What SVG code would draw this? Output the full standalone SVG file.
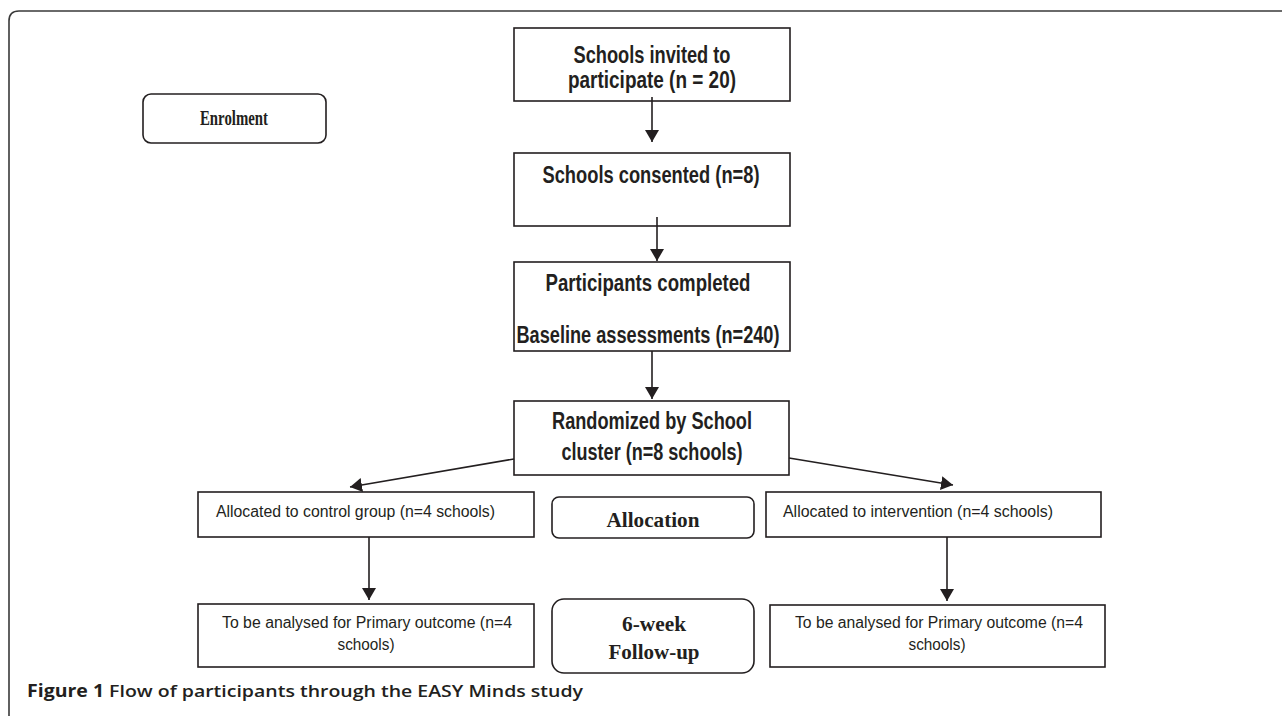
<svg xmlns="http://www.w3.org/2000/svg" width="1282" height="716" viewBox="0 0 1282 716">
<style>
.box{fill:#fff;stroke:#231f20;stroke-width:1.6}
.rbox{fill:#fff;stroke:#231f20;stroke-width:1.6}
.frame{fill:none;stroke:#3a3a3a;stroke-width:1.6}
.conn{stroke:#231f20;stroke-width:1.6;fill:none}
.bt{font-family:"Liberation Sans","Noto Sans",sans-serif;font-weight:700;font-size:23px;fill:#231f20;text-anchor:middle}
.st{font-family:"Liberation Sans","Noto Sans",sans-serif;font-size:16px;fill:#231f20}
.tt{font-family:"Liberation Serif","DejaVu Serif",serif;font-weight:700;font-size:21px;fill:#231f20;text-anchor:middle}
.cap{font-family:"Open Sans","Liberation Sans",sans-serif;font-size:17px;fill:#231f20}
</style>
<defs>
<marker id="ah" markerUnits="userSpaceOnUse" markerWidth="12" markerHeight="14" viewBox="0 0 12 14" refX="12" refY="7" orient="auto">
<path d="M0,0 L12,7 L0,14 Z" fill="#231f20"/>
</marker>
</defs>
<rect width="1282" height="716" fill="#fff"/>
<path class="frame" d="M9,716 L9,21 Q9,11 19,11 L1290,11"/>

<g id="enrolment">
<rect class="rbox" x="143" y="94" width="183" height="49" rx="8"/>
<text class="tt" x="234" y="125" textLength="68" lengthAdjust="spacingAndGlyphs">Enrolment</text>
</g>
<g id="invited">
<rect class="box" x="514" y="28" width="276" height="73"/>
<text class="bt" x="652" y="63" textLength="157" lengthAdjust="spacingAndGlyphs">Schools invited to</text>
<text class="bt" x="652" y="88" textLength="168" lengthAdjust="spacingAndGlyphs">participate (n = 20)</text>
</g>
<g id="consented">
<rect class="box" x="514" y="153" width="276" height="73"/>
<text class="bt" x="651" y="183" textLength="217" lengthAdjust="spacingAndGlyphs">Schools consented (n=8)</text>
</g>
<g id="baseline">
<rect class="box" x="514" y="262" width="276" height="89"/>
<text class="bt" x="648" y="291" textLength="205" lengthAdjust="spacingAndGlyphs">Participants completed</text>
<text class="bt" x="648" y="343" textLength="263" lengthAdjust="spacingAndGlyphs">Baseline assessments (n=240)</text>
</g>
<g id="randomized">
<rect class="box" x="514" y="401" width="275" height="74"/>
<text class="bt" x="652" y="429" textLength="200" lengthAdjust="spacingAndGlyphs">Randomized by School</text>
<text class="bt" x="652" y="460" textLength="181" lengthAdjust="spacingAndGlyphs">cluster (n=8 schools)</text>
</g>
<g id="control">
<rect class="box" x="198" y="492" width="336" height="45"/>
<text class="st" x="216" y="517" textLength="279" lengthAdjust="spacingAndGlyphs">Allocated to control group (n=4 schools)</text>
</g>
<g id="allocation">
<rect class="rbox" x="552" y="497" width="202" height="41" rx="7"/>
<text class="tt" x="653" y="527" textLength="93" lengthAdjust="spacingAndGlyphs">Allocation</text>
</g>
<g id="intervention">
<rect class="box" x="766" y="492" width="335" height="45"/>
<text class="st" x="783" y="517" textLength="270" lengthAdjust="spacingAndGlyphs">Allocated to intervention (n=4 schools)</text>
</g>
<g id="control-outcome">
<rect class="box" x="198" y="604" width="336" height="63"/>
<text class="st" x="222" y="628" textLength="290" lengthAdjust="spacingAndGlyphs">To be analysed for Primary outcome (n=4</text>
<text class="st" x="366" y="650" text-anchor="middle" textLength="57" lengthAdjust="spacingAndGlyphs">schools)</text>
</g>
<g id="followup">
<rect class="rbox" x="552" y="599" width="202" height="74" rx="12"/>
<text class="tt" x="654" y="631" textLength="64" lengthAdjust="spacingAndGlyphs">6-week</text>
<text class="tt" x="654" y="659" textLength="91" lengthAdjust="spacingAndGlyphs">Follow-up</text>
</g>
<g id="intervention-outcome">
<rect class="box" x="770" y="605" width="335" height="62"/>
<text class="st" x="795" y="628" textLength="288" lengthAdjust="spacingAndGlyphs">To be analysed for Primary outcome (n=4</text>
<text class="st" x="937" y="650" text-anchor="middle" textLength="57" lengthAdjust="spacingAndGlyphs">schools)</text>
</g>

<g id="connectors">
<line class="conn" x1="652" y1="97" x2="652" y2="142" marker-end="url(#ah)"/>
<line class="conn" x1="657" y1="217" x2="657" y2="261" marker-end="url(#ah)"/>
<line class="conn" x1="652" y1="351" x2="652" y2="399" marker-end="url(#ah)"/>
<line class="conn" x1="514" y1="459" x2="350" y2="487" marker-end="url(#ah)"/>
<line class="conn" x1="789" y1="458" x2="953" y2="485" marker-end="url(#ah)"/>
<line class="conn" x1="369" y1="537" x2="369" y2="600" marker-end="url(#ah)"/>
<line class="conn" x1="947" y1="537" x2="947" y2="601" marker-end="url(#ah)"/>
</g>

<text class="cap" x="27" y="697" textLength="556" lengthAdjust="spacingAndGlyphs"><tspan font-weight="700">Figure 1</tspan><tspan font-weight="600"> Flow of participants through the EASY Minds study</tspan></text>
</svg>
